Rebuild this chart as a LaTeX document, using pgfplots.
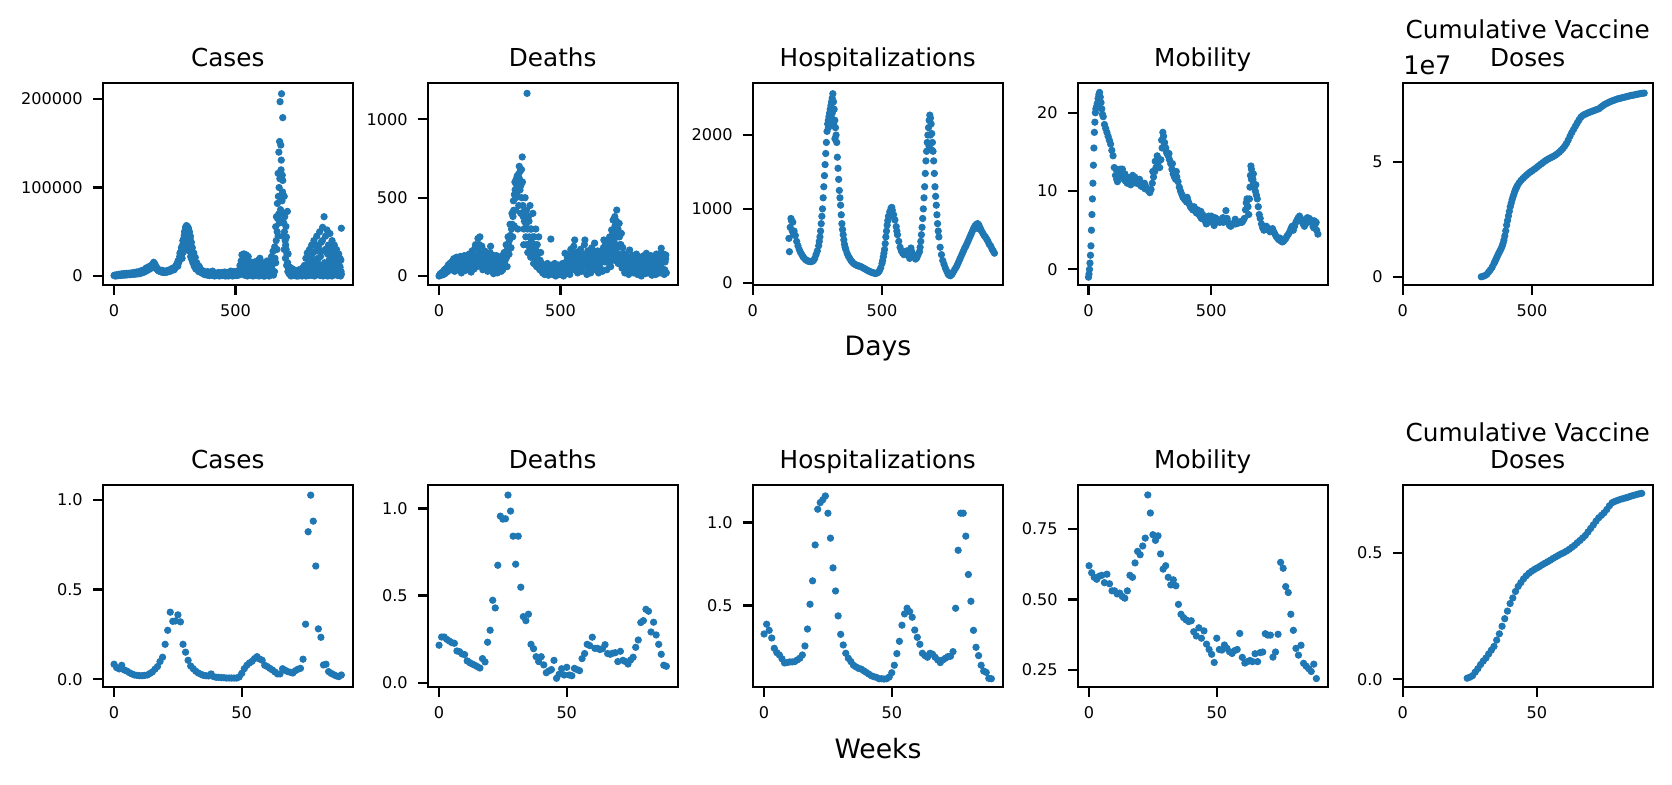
\documentclass[border=0pt]{standalone}
\usepackage{fontspec}
\setmainfont{DejaVu Sans}
\usepackage{pgfplots}
\pgfplotsset{compat=1.18}
\definecolor{mplblue}{HTML}{1F77B4}
\newcommand\ticksize{\fontsize{5.8}{6}\selectfont}
\newcommand\titlesize{\fontsize{8.9}{10}\selectfont}
\newcommand\labsize{\fontsize{9.6}{11}\selectfont}
\pgfplotsset{
  panel/.style={scale only axis, width=90pt, height=72.8pt, anchor=south west, clip=false,
    scaled ticks=false,
    axis line style={line width=0.8pt, black},
    tick align=outside, xtick pos=left, ytick pos=left,
    major tick length=3.5pt,
    every tick/.style={black, line width=0.8pt},
    tick label style={font=\ticksize},
    /pgf/number format/assume math mode=true,
    xticklabel style={inner sep=0pt, anchor=north, yshift=-3.5pt},
    yticklabel style={inner sep=0pt, anchor=east, xshift=-3.5pt},
    title style={at={(0.5,1)}, anchor=base, yshift=-0.2pt, inner sep=0pt, font=\titlesize},
  },
  dots/.style={only marks, mark=*, mark size=1.1pt, color=mplblue, mark options={draw=none}},
}
\begin{document}
\begin{tikzpicture}
\path[use as bounding box] (0,0) rectangle (601.92pt,282.24pt);

% ---------------- top row: days ----------------
\begin{axis}[panel, at={(36.97pt,179.64pt)}, title={Cases},
  xmin=-46.75, xmax=981.75, ymin=-10170, ymax=218400,
  xtick={0,500}, xticklabels={0,500}, ytick={0,100000,200000}, yticklabels={0,100000,200000}]
\addplot[dots] coordinates {(0,500)(5,0)(10,800)(15,300)(20,1200)(25,600)(30,1500)(35,900)(40,1800)(45,1000)(50,2000)(55,1300)(60,2200)(65,1500)(70,2500)(75,1800)(80,2800)(85,2000)(90,3000)(95,2300)(100,3500)(105,2600)(110,4200)(115,3500)(120,5500)(125,4500)(130,7500)(135,6000)(140,9000)(145,7500)(150,11000)(155,9000)(160,13500)(163,15500)(165,11000)(170,12000)(175,8000)(180,6500)(185,5500)(190,6000)(195,4500)(200,5000)(205,4200)(210,4800)(215,5200)(220,4500)(225,5800)(230,6500)(235,6000)(240,7500)(245,9000)(250,8500)(255,11000)(260,14000)(263,17000)(266,15000)(270,22000)(273,19000)(276,28000)(279,25000)(282,35000)(284,30000)(286,42000)(288,38000)(290,50000)(292,44000)(294,55000)(296,48000)(298,57000)(300,52000)(302,56000)(304,46000)(306,54000)(308,40000)(310,50000)(312,35000)(314,45000)(316,30000)(318,38000)(320,25000)(322,32000)(325,20000)(328,26000)(331,16000)(334,21000)(337,12000)(340,15000)(345,9000)(350,11000)(355,7000)(360,5000)(365,6000)(370,3000)(375,4500)(380,2500)(385,5000)(390,1500)(395,4000)(400,2000)(405,5500)(410,1000)(415,3500)(420,500)(425,2500)(430,4000)(435,1000)(440,3000)(445,500)(450,2000)(455,4500)(460,800)(465,3000)(470,0)(475,2500)(480,5500)(485,500)(490,3500)(495,1500)(500,4000)(505,1000)(510,6000)(515,3000)(518,12000)(520,8000)(523,17000)(526,24000)(528,14000)(531,20000)(534,25000)(537,10000)(540,16000)(543,24000)(546,6000)(549,15000)(552,22000)(555,12000)(558,3000)(561,16000)(564,8000)(567,14000)(570,2000)(573,11000)(576,6000)(579,16000)(582,1000)(585,9000)(588,13000)(591,4000)(594,18000)(597,7000)(600,20000)(603,2000)(606,12000)(609,5000)(612,15000)(615,0)(618,10000)(621,3000)(624,14000)(627,6000)(630,17000)(633,1000)(636,11000)(639,4000)(642,16000)(645,8000)(648,22000)(651,3000)(654,28000)(657,18000)(660,5000)(661,33000)(665,55700)(665,15000)(668,67000)(670,30000)(672,82000)(675,116000)(675,45000)(678,140000)(680,60000)(681,152000)(683,197000)(685,75000)(686,148000)(688,131000)(689,206000)(690,62000)(692,114000)(694,179000)(694,108000)(695,45000)(697,91000)(700,90000)(700,30000)(702,67000)(705,20000)(707,56000)(709,44000)(710,12000)(713,73000)(715,5000)(716,25000)(720,3000)(723,10000)(726,1000)(730,5000)(735,8000)(740,2000)(745,6000)(750,0)(755,4000)(760,7000)(765,1000)(770,5000)(775,9000)(780,2000)(783,12000)(786,4000)(789,20000)(792,8000)(795,26000)(798,2000)(801,14000)(804,30000)(807,6000)(810,22000)(813,35000)(816,1000)(819,18000)(822,40000)(825,10000)(828,28000)(831,3000)(834,45000)(837,15000)(840,33000)(843,5000)(846,50000)(849,22000)(852,38000)(855,8000)(858,55000)(861,2000)(864,67000)(867,28000)(870,45000)(873,12000)(876,52000)(879,0)(882,35000)(885,18000)(888,48000)(891,5000)(894,30000)(897,40000)(900,10000)(903,25000)(906,35000)(909,2000)(912,20000)(915,30000)(918,8000)(921,15000)(924,25000)(927,3000)(930,10000)(933,18000)(935,54000)(935,2000)
(790,0)(800,500)(812,1000)(824,0)(836,1500)(848,500)(860,0)(872,1000)(884,500)(896,0)(908,1500)(920,500)(932,0)(818,8000)(842,12000)(866,15000)(890,20000)(914,10000)};
\addplot[dots] coordinates {(2,1000)(7,300)(12,1500)(17,700)(22,2000)(27,1000)(32,2500)(37,1500)(42,2800)(47,1800)(52,3000)(57,2000)(62,3200)(67,2300)(72,3500)(77,2500)(82,4000)(87,3000)(92,4500)(97,3200)(102,5000)(107,3500)(112,6000)(117,4500)(122,7000)(127,6000)(132,9000)(137,8000)(142,10500)(147,9500)(152,12000)(157,11000)(162,12500)(167,14000)(172,10000)(177,9000)(182,7500)(187,6000)(192,5000)(197,6500)(202,4000)(207,5500)(212,4000)(217,6000)(222,5500)(227,7000)(232,5500)(237,8000)(242,9000)(247,7000)(252,10000)(257,13000)(262,11000)(268,18000)(271,26000)(274,24000)(277,32000)(280,20000)(283,40000)(285,27000)(287,33000)(289,46000)(291,30000)(293,51000)(295,36000)(297,53000)(299,40000)(301,55000)(303,35000)(305,50000)(307,30000)(309,47000)(311,28000)(313,42000)(315,22000)(317,34000)(319,19000)(321,28000)(324,15000)(327,22000)(330,11000)(333,17000)(336,8000)(339,12000)(343,7000)(348,5000)(353,9000)(358,4000)(363,3000)(368,5000)(373,1500)(378,3500)(383,1000)(388,3000)(393,500)(398,3000)(403,1000)(408,4000)(413,0)(418,2500)(423,1500)(428,3500)(433,0)(438,2000)(443,4000)(448,1000)(453,3000)(458,0)(463,2000)(468,4000)(473,1000)(478,3000)(483,2000)(488,0)(493,5000)(498,2000)(503,500)(508,3500)(513,1000)
(519,2000)(525,5000)(530,3000)(536,1000)(542,4000)(548,0)(554,6000)(560,1000)(566,3000)(572,0)(578,2000)(584,5000)(590,1000)(596,0)(602,8000)(608,1000)(614,4000)(620,0)(626,2000)(632,9000)(638,0)(644,3000)(650,12000)(656,1000)
(662,20000)(667,40000)(671,50000)(673,65000)(676,90000)(677,70000)(679,100000)(682,110000)(684,90000)(687,120000)(691,85000)(693,95000)(696,70000)(698,60000)(701,50000)(704,40000)(706,35000)(708,30000)(711,25000)(714,15000)(718,8000)
(722,2000)(728,0)(733,3000)(738,500)(743,4000)(748,1000)(753,2500)(758,0)(763,3500)(768,1500)(773,0)(778,5000)(785,1000)(793,3000)(797,12000)(803,1000)(806,18000)(809,4000)(811,10000)(815,25000)(821,5000)(827,15000)(830,35000)(833,8000)(839,20000)(845,10000)(851,28000)(854,3000)(857,40000)(863,12000)(869,30000)(875,5000)(878,25000)(881,10000)(887,30000)(893,15000)(899,25000)(902,3000)(905,15000)(911,8000)(917,18000)(923,5000)(926,12000)(929,20000)(934,5000)};
\end{axis}

\begin{axis}[panel, at={(153.97pt,179.64pt)}, title={Deaths},
  xmin=-46.75, xmax=981.75, ymin=-57.4, ymax=1233.6,
  xtick={0,500}, xticklabels={0,500}, ytick={0,500,1000}, yticklabels={0,500,1000}]
\addplot[dots] coordinates {(0,0)(4,10)(8,5)(12,20)(16,8)(20,30)(24,15)(28,45)(32,25)(36,60)(40,35)(44,80)(48,40)(52,90)(56,50)(60,110)(64,30)(68,80)(72,120)(76,40)(80,95)(84,60)(88,125)(92,20)(96,100)(100,70)(104,130)(108,35)(112,90)(116,115)(120,50)(124,140)(128,75)(132,25)(136,160)(140,100)(144,45)(148,180)(152,120)(156,60)(160,240)(164,150)(168,250)(172,80)(176,190)(180,40)(184,130)(188,160)(192,70)(196,110)(200,30)(204,140)(208,85)(212,190)(216,50)(220,120)(224,15)(228,100)(232,60)(236,130)(240,20)(244,90)(248,50)(252,110)(256,30)(260,130)(264,70)(268,150)(272,100)(276,200)(280,60)(284,250)(288,140)(292,330)(296,180)(300,400)(303,250)(306,480)(309,320)(312,600)(315,420)(318,620)(321,520)(324,300)(327,650)(330,700)(333,550)(336,400)(339,680)(342,760)(345,450)(348,200)(351,350)(354,500)(357,250)(360,420)(362,1166)(365,150)(368,380)(371,250)(374,450)(377,120)(380,300)(383,200)(386,400)(389,80)(392,250)(395,150)(398,300)(401,60)(404,200)(407,100)(410,250)(414,40)(418,150)(422,80)(426,20)(430,70)(434,10)(438,60)(442,30)(446,80)(450,5)(454,50)(458,20)(460,236)(464,70)(468,10)(472,40)(476,80)(480,0)(484,60)(488,20)(492,70)(496,10)(500,50)(504,30)(508,80)(512,0)(516,60)(518,145)(522,20)(526,100)(530,50)(534,130)(538,10)(542,170)(546,80)(550,40)(554,190)(558,230)(562,60)(566,150)(570,20)(574,120)(578,90)(582,170)(586,30)(590,140)(594,60)(598,200)(600,230)(604,100)(608,10)(612,160)(616,70)(620,120)(624,20)(628,180)(632,90)(636,40)(640,210)(644,130)(648,60)(652,160)(656,20)(660,100)(664,50)(668,140)(672,30)(676,180)(678,230)(682,90)(686,150)(690,40)(694,200)(698,110)(702,250)(706,60)(710,294)(713,160)(716,357)(719,220)(722,100)(723,379)(726,280)(729,150)(731,421)(734,250)(737,80)(741,336)(744,200)(747,120)(750,272)(753,50)(756,180)(760,100)(764,20)(768,140)(772,60)(776,120)(780,10)(784,166)(788,80)(792,40)(796,130)(800,20)(804,100)(808,60)(812,140)(816,10)(820,90)(824,40)(828,120)(832,0)(836,80)(840,30)(844,110)(848,15)(853,145)(856,60)(860,20)(864,100)(868,40)(872,130)(876,5)(880,70)(884,30)(888,120)(892,10)(896,90)(900,40)(904,140)(908,20)(912,80)(914,177)(918,30)(922,110)(926,10)(930,90)(933,134)(935,20)};
\addplot[dots] coordinates {(2,3)(6,15)(10,12)(14,25)(18,20)(22,40)(26,35)(30,50)(34,40)(38,70)(42,55)(46,65)(50,70)(54,75)(58,85)(62,60)(66,100)(70,70)(74,90)(78,65)(82,110)(86,85)(90,70)(94,115)(98,50)(102,95)(106,110)(110,60)(114,130)(118,80)(122,100)(126,110)(130,60)(134,120)(138,70)(142,130)(146,90)(150,200)(154,100)(158,170)(162,120)(166,200)(170,130)(174,100)(178,140)(182,90)(186,110)(190,120)(194,50)(198,90)(202,110)(206,60)(210,150)(214,100)(218,80)(222,70)(226,130)(230,40)(234,90)(238,110)(242,60)(246,120)(250,80)(254,70)(258,110)(262,40)(266,100)(270,130)(274,150)(278,120)(282,180)(286,200)(290,230)(294,260)(298,300)(301,330)(304,380)(307,420)(310,520)(313,550)(316,500)(319,580)(322,640)(325,600)(328,450)(331,620)(334,670)(337,580)(340,500)(343,600)(346,380)(349,300)(352,420)(355,380)(358,330)(361,200)(364,300)(367,200)(370,350)(373,180)(376,300)(379,220)(382,150)(385,250)(388,180)(391,120)(394,200)(397,100)(400,160)(403,120)(406,60)(409,150)(412,90)(416,100)(420,50)(424,60)(428,40)(432,30)(436,50)(440,20)(444,40)(448,60)(452,30)(456,10)(462,40)(466,30)(470,60)(474,20)(478,50)(482,30)(486,40)(490,10)(494,50)(498,20)(502,70)(506,10)(510,40)(514,30)(520,80)(524,60)(528,120)(532,80)(536,40)(540,110)(544,130)(548,70)(552,150)(556,100)(560,120)(564,40)(568,100)(572,60)(576,140)(580,50)(584,110)(588,80)(592,100)(596,130)(602,60)(606,140)(610,90)(614,40)(618,130)(622,90)(626,60)(630,130)(634,70)(638,150)(642,60)(646,100)(650,80)(654,130)(658,70)(662,150)(666,100)(670,90)(674,150)(680,120)(684,200)(688,100)(692,150)(696,230)(700,80)(704,180)(708,130)(712,220)(715,280)(718,120)(721,250)(724,320)(727,200)(730,350)(733,180)(736,300)(739,140)(742,250)(745,100)(748,200)(752,130)(755,80)(758,140)(762,60)(766,100)(770,30)(774,80)(778,110)(782,50)(786,120)(790,90)(794,30)(798,100)(802,60)(806,130)(810,30)(814,90)(818,50)(822,120)(826,70)(830,20)(834,100)(838,60)(842,130)(846,40)(850,90)(854,30)(858,110)(862,70)(866,20)(870,100)(874,50)(878,120)(882,30)(886,80)(890,60)(894,140)(898,20)(902,100)(906,60)(910,120)(916,50)(920,90)(924,140)(928,40)(932,110)};
\end{axis}

\begin{axis}[panel, at={(270.97pt,179.64pt)}, title={Hospitalizations},
  xmin=0, xmax=967, ymin=-31, ymax=2708,
  xtick={0,500}, xticklabels={0,500}, ytick={0,1000,2000}, yticklabels={0,1000,2000}]
\addplot[dots] coordinates {(140,600)(142,420)(145,750)(148,870)(150,840)(153,700)(155,820)(158,650)(160,700)(165,640)(170,560)(175,500)(180,450)(185,410)(190,380)(195,350)(200,330)(205,310)(210,300)(215,290)(220,290)(225,285)(230,290)(235,300)(240,330)(245,380)(250,430)(255,500)(257.5,560)(260,620)(262.5,700)(265,800)(267.5,900)(270,1000)(272.5,1150)(275,1300)(277.5,1450)(280,1600)(282.5,1750)(285,1900)(287.5,2050)(290,2150)(292.5,2200)(295,2250)(297.5,2300)(300,2350)(302.5,2400)(305,2450)(307.5,2500)(310,2560)(312.5,2450)(315,2350)(317.5,2200)(320,2100)(322.5,2000)(325,1900)(327.5,1700)(330,1550)(332.5,1400)(335,1250)(337.5,1150)(340,1050)(342.5,920)(345,800)(347.5,720)(350,650)(352.5,580)(355,520)(357.5,480)(360,450)(365,400)(370,360)(375,330)(380,300)(385,280)(390,260)(395,250)(400,240)(405,230)(410,230)(415,220)(420,215)(425,205)(430,195)(435,185)(440,175)(445,165)(450,155)(455,150)(460,140)(465,135)(470,130)(475,125)(480,130)(485,140)(490,160)(495,200)(500,260)(502.5,300)(505,350)(507.5,400)(510,450)(512.5,530)(515,620)(517.5,700)(520,780)(522.5,840)(525,900)(530,960)(535,1010)(540,980)(545,920)(550,850)(555,760)(557.5,700)(560,650)(565,560)(570,480)(575,430)(580,400)(585,380)(590,400)(595,430)(600,420)(605,400)(610,450)(615,420)(620,380)(625,350)(630,320)(635,340)(640,380)(645,420)(647.5,480)(650,560)(652.5,650)(655,750)(657.5,870)(660,1000)(662.5,1150)(665,1300)(667.5,1480)(670,1650)(672.5,1780)(675,1900)(677.5,2000)(680,2100)(682.5,2200)(685,2270)(687.5,2230)(690,2150)(692.5,2020)(695,1900)(697.5,1780)(700,1650)(702.5,1480)(705,1300)(707.5,1170)(710,1050)(712.5,920)(715,800)(717.5,700)(720,620)(725,480)(730,380)(735,300)(740,250)(745,200)(750,160)(755,120)(760,100)(765,95)(770,110)(775,140)(780,170)(785,200)(790,230)(795,270)(800,310)(805,350)(810,390)(815,430)(820,470)(825,500)(830,540)(835,580)(840,620)(845,660)(850,700)(855,740)(860,770)(865,790)(870,800)(875,780)(880,740)(885,700)(890,670)(895,640)(900,620)(905,590)(910,560)(915,520)(920,500)(925,460)(930,430)(935,400)
(293,2100)(298,2150)(303,2250)(308,2300)(313,2150)(318,1950)(682,1850)(687,2000)(692,1800)(533,900)(538,1020)(597,380)(607,330)(612,470)(868,760)(873,730)};
\end{axis}

\begin{axis}[panel, at={(387.97pt,179.64pt)}, title={Mobility},
  xmin=-44, xmax=975, ymin=-2.0, ymax=23.83,
  xtick={0,500}, xticklabels={0,500}, ytick={0,10,20}, yticklabels={0,10,20}]
\addplot[dots] coordinates {(0,-1.0)(2,-0.6)(4,0.0)(6,0.8)(8,1.8)(10,3.0)(12,5.0)(14,7.0)(16,9.0)(18,11.0)(20,13.3)(22,15.5)(24,17.5)(26,18.8)(28,20.0)(30,20.5)(33,20.8)(36,21.2)(39,21.8)(42,22.3)(45,22.6)(48,22.0)(51,21.3)(54,20.5)(57,19.8)(60,19.5)(65,18.5)(70,18.0)(75,17.5)(80,17.0)(85,16.5)(90,16.0)(95,15.2)(100,14.5)(105,13.0)(110,12.0)(115,11.5)(120,11.8)(125,12.5)(130,12.8)(135,12.3)(140,12.0)(145,11.5)(150,11.3)(155,11.8)(160,11.5)(165,11.2)(170,11.4)(175,11.8)(180,12.0)(185,11.6)(190,11.2)(195,11.0)(200,11.1)(205,11.0)(210,10.8)(215,10.6)(220,10.8)(225,10.5)(230,10.3)(235,10.5)(240,10.2)(245,10.0)(250,9.8)(255,10.2)(260,11.0)(265,11.8)(270,12.5)(275,13.0)(280,14.5)(285,13.8)(290,13.0)(295,14.0)(300,15.5)(303,17.5)(306,17.0)(310,16.2)(315,15.5)(320,14.8)(325,14.5)(330,14.0)(335,13.5)(340,12.8)(345,12.2)(350,11.8)(355,11.5)(360,11.8)(365,11.2)(370,10.5)(375,10.0)(380,9.6)(385,9.2)(390,9.0)(395,8.8)(400,8.6)(405,8.8)(410,8.4)(415,8.0)(420,7.8)(425,7.6)(430,8.0)(435,7.5)(440,7.2)(445,7.6)(450,7.0)(455,6.8)(460,6.5)(465,7.0)(470,6.6)(475,6.2)(480,5.8)(485,6.4)(490,6.8)(495,6.3)(500,6.8)(505,6.5)(510,6.2)(515,6.6)(520,6.5)(525,6.4)(530,6.2)(535,6.0)(540,6.3)(545,6.1)(550,6.0)(555,6.4)(560,7.5)(565,6.5)(570,6.0)(575,5.6)(580,5.5)(585,5.7)(590,5.8)(595,6.0)(600,5.8)(605,6.0)(610,5.9)(615,6.0)(620,6.1)(625,6.0)(630,6.2)(635,6.5)(640,7.6)(643,8.5)(646,9.0)(650,8.0)(653,7.0)(656,9.0)(658,10.5)(660,12.0)(662,13.2)(664,12.8)(667,12.0)(670,11.5)(673,11.0)(676,10.5)(680,10.0)(684,9.5)(688,9.0)(692,8.0)(696,7.0)(700,6.5)(705,5.8)(710,5.3)(715,5.0)(720,5.2)(725,5.5)(730,5.3)(735,5.0)(740,4.8)(745,5.0)(750,5.2)(755,4.8)(760,4.5)(765,4.2)(770,4.0)(775,3.8)(780,4.0)(785,3.6)(790,3.5)(795,3.6)(800,3.8)(805,4.0)(810,4.3)(815,4.5)(820,4.8)(825,5.2)(830,5.5)(835,5.0)(840,5.5)(845,6.0)(850,6.3)(855,6.6)(860,6.8)(865,6.5)(870,6.2)(875,5.8)(880,5.5)(885,5.8)(890,6.0)(895,6.2)(900,6.5)(905,6.3)(910,6.0)(915,5.5)(920,6.2)(925,5.8)(930,5.0)(935,4.5)
(112,12.8)(118,11.2)(128,11.8)(138,12.8)(148,12.2)(158,11.0)(172,10.8)(188,11.8)(208,11.5)(228,11.0)(262,12.5)(272,13.8)(282,13.5)(298,16.5)(308,15.8)(318,15.0)(328,14.8)(342,13.5)(358,12.5)(402,9.2)(432,7.8)(458,7.4)(488,6.0)(512,5.6)(548,6.6)(598,6.4)(648,8.0)(664,11.5)(672,12.2)(682,10.8)(862,6.2)(892,6.6)(918,5.3)(928,6.0)};
\end{axis}

\begin{axis}[panel, at={(504.97pt,179.64pt)}, title={Doses},
  xmin=0, xmax=967, ymin=-0.36, ymax=8.45,
  xtick={0,500}, xticklabels={0,500}, ytick={0,5}, yticklabels={0,5}]
\node[anchor=base, inner sep=0pt, font=\titlesize] at (rel axis cs:0.5,1) [yshift=15.8pt] {Cumulative Vaccine};
\node[anchor=base west, inner sep=0pt, font=\fontsize{9.2}{10}\selectfont] at (rel axis cs:0,1) [yshift=2.9pt] {1e7};
\addplot[dots] coordinates {(304,0.0)(311,0.02)(318,0.05)(325,0.10)(332,0.2)(339,0.3)(346,0.42)(353,0.58)(356.5,0.66)(360,0.75)(363.5,0.83)(367,0.92)(370.5,1.0)(374,1.08)(377.5,1.15)(381,1.23)(384.5,1.33)(388,1.45)(391.5,1.6)(395,1.78)(398.5,2.0)(402,2.25)(405.5,2.45)(409,2.65)(412.5,2.85)(416,3.05)(419.5,3.2)(423,3.35)(426.5,3.48)(430,3.6)(433.5,3.72)(437,3.82)(440.5,3.9)(444,3.98)(451,4.1)(458,4.2)(465,4.28)(472,4.36)(479,4.43)(486,4.5)(493,4.56)(500,4.61)(507,4.67)(514,4.72)(521,4.79)(528,4.85)(535,4.91)(542,4.97)(549,5.03)(556,5.08)(563,5.13)(570,5.17)(577,5.21)(584,5.25)(591,5.3)(598,5.36)(605,5.42)(612,5.5)(619,5.58)(626,5.68)(633,5.8)(640,5.95)(647,6.12)(654,6.28)(661,6.42)(668,6.56)(675,6.7)(682,6.83)(689,6.95)(696,7.02)(703,7.07)(710,7.1)(717,7.14)(724,7.17)(731,7.2)(738,7.23)(745,7.26)(752,7.29)(759,7.32)(766,7.38)(773,7.44)(780,7.5)(787,7.54)(794,7.58)(801,7.62)(808,7.65)(815,7.68)(822,7.71)(829,7.74)(836,7.76)(843,7.78)(850,7.8)(857,7.82)(864,7.84)(871,7.86)(878,7.88)(885,7.9)(892,7.91)(899,7.93)(906,7.95)(913,7.96)(920,7.98)(927,7.99)(934,8.0)};
\end{axis}

\node[anchor=base, inner sep=0pt, font=\labsize] at (316.08pt,154.3pt) {Days};

% ---------------- bottom row: weeks ----------------
\begin{axis}[panel, at={(36.97pt,34.92pt)}, title={Cases},
  xmin=-4.45, xmax=93.45, ymin=-0.043, ymax=1.0837,
  xtick={0,50}, xticklabels={0,50}, ytick={0,0.5,1}, yticklabels={0.0,0.5,1.0}]
\addplot[dots] coordinates {(0,.084)(1,.065)(2,.058)(3,.078)(4,.052)(5,.046)(6,.037)(7,.030)(8,.024)(9,.022)(10,.020)(11,.020)(12,.022)(13,.024)(14,.032)(15,.041)(16,.056)(17,.071)(18,.099)(19,.123)(20,.195)(21,.273)(22,.374)(23,.323)(24,.325)(25,.359)(26,.320)(27,.195)(28,.151)(29,.106)(30,.074)(31,.059)(32,.045)(33,.035)(34,.028)(35,.022)(36,.020)(37,.019)(38,.030)(39,.015)(40,.011)(41,.011)(42,.009)(43,.009)(44,.007)(45,.007)(46,.007)(47,.007)(48,.007)(49,.013)(50,.033)(51,.059)(52,.078)(53,.091)(54,.100)(55,.115)(56,.126)(57,.113)(58,.106)(59,.078)(60,.071)(61,.061)(62,.052)(63,.041)(64,.030)(65,.030)(66,.059)(67,.050)(68,.043)(69,.039)(70,.035)(71,.048)(72,.056)(73,.061)(74,.112)(75,.307)(76,.822)(77,1.026)(78,.881)(79,.631)(80,.281)(81,.234)(82,.080)(83,.084)(84,.043)(85,.033)(86,.026)(87,.019)(88,.015)(89,.024)};
\end{axis}

\begin{axis}[panel, at={(153.97pt,34.92pt)}, title={Deaths},
  xmin=-4.45, xmax=93.45, ymin=-0.025, ymax=1.136,
  xtick={0,50}, xticklabels={0,50}, ytick={0,0.5,1}, yticklabels={0.0,0.5,1.0}]
\addplot[dots] coordinates {(0,.215)(1,.262)(2,.262)(3,.249)(4,.239)(5,.230)(6,.226)(7,.182)(8,.178)(9,.165)(10,.161)(11,.125)(12,.115)(13,.107)(14,.100)(15,.092)(16,.084)(17,.138)(18,.119)(19,.232)(20,.301)(21,.473)(22,.429)(23,.674)(24,.956)(25,.939)(26,.941)(27,1.077)(28,.985)(29,.841)(30,.680)(31,.841)(32,.548)(33,.379)(34,.356)(35,.393)(36,.220)(37,.195)(38,.149)(39,.121)(40,.149)(41,.102)(42,.057)(43,.067)(44,.075)(45,.128)(46,.025)(47,.048)(48,.080)(49,.044)(50,.088)(51,.044)(52,.040)(53,.082)(54,.075)(55,.069)(56,.138)(57,.167)(58,.220)(59,.213)(60,.261)(61,.197)(62,.197)(63,.190)(64,.195)(65,.218)(66,.167)(67,.163)(68,.169)(69,.172)(70,.121)(71,.180)(72,.128)(73,.121)(74,.107)(75,.130)(76,.146)(77,.203)(78,.245)(79,.345)(80,.356)(81,.421)(82,.410)(83,.291)(84,.347)(85,.274)(86,.220)(87,.163)(88,.100)(89,.094)};
\end{axis}

\begin{axis}[panel, at={(270.97pt,34.92pt)}, title={Hospitalizations},
  xmin=-4.45, xmax=93.45, ymin=0.010, ymax=1.227,
  xtick={0,50}, xticklabels={0,50}, ytick={0.5,1}, yticklabels={0.5,1.0}]
\addplot[dots] coordinates {(0,.329)(1,.388)(2,.351)(3,.305)(4,.243)(5,.217)(6,.203)(7,.180)(8,.155)(9,.157)(10,.161)(11,.161)(12,.163)(13,.173)(14,.183)(15,.203)(16,.257)(17,.359)(18,.508)(19,.649)(20,.865)(21,1.080)(22,1.120)(23,1.137)(24,1.160)(25,1.056)(26,.906)(27,.727)(28,.588)(29,.438)(30,.327)(31,.263)(32,.213)(33,.183)(34,.163)(35,.141)(36,.131)(37,.122)(38,.118)(39,.108)(40,.098)(41,.088)(42,.078)(43,.072)(44,.068)(45,.060)(46,.060)(47,.058)(48,.060)(49,.070)(50,.096)(51,.141)(52,.211)(53,.285)(54,.382)(55,.450)(56,.484)(57,.464)(58,.430)(59,.353)(60,.309)(61,.267)(62,.213)(63,.199)(64,.189)(65,.213)(66,.207)(67,.189)(68,.173)(69,.157)(70,.173)(71,.183)(72,.193)(73,.195)(74,.223)(75,.484)(76,.833)(77,1.056)(78,1.056)(79,.918)(80,.687)(81,.526)(82,.351)(83,.249)(84,.199)(85,.141)(86,.106)(87,.098)(88,.062)(89,.060)};
\end{axis}

\begin{axis}[panel, at={(387.97pt,34.92pt)}, title={Mobility},
  xmin=-4.45, xmax=93.45, ymin=0.19, ymax=0.907,
  xtick={0,50}, xticklabels={0,50}, ytick={0.25,0.5,0.75}, yticklabels={0.25,0.50,0.75}]
\addplot[dots] coordinates {(0,.620)(1,.595)(2,.579)(3,.572)(4,.583)(5,.586)(6,.560)(7,.590)(8,.556)(9,.531)(10,.531)(11,.520)(12,.523)(13,.511)(14,.505)(15,.531)(16,.586)(17,.579)(18,.630)(19,.671)(20,.659)(21,.690)(22,.718)(23,.871)(24,.807)(25,.730)(26,.710)(27,.726)(28,.662)(29,.608)(30,.620)(31,.579)(32,.552)(33,.570)(34,.549)(35,.483)(36,.448)(37,.436)(38,.428)(39,.422)(40,.425)(41,.386)(42,.371)(43,.400)(44,.363)(45,.389)(46,.342)(47,.323)(48,.306)(49,.277)(50,.363)(51,.323)(52,.321)(53,.339)(54,.327)(55,.315)(56,.309)(57,.319)(58,.323)(59,.380)(60,.295)(61,.275)(62,.280)(63,.284)(64,.280)(65,.308)(66,.280)(67,.312)(68,.314)(69,.379)(70,.374)(71,.374)(72,.296)(73,.314)(74,.377)(75,.632)(76,.611)(77,.546)(78,.525)(79,.448)(80,.391)(81,.327)(82,.303)(83,.338)(84,.274)(85,.264)(86,.255)(87,.245)(88,.271)(89,.220)};
\end{axis}

\begin{axis}[panel, at={(504.97pt,34.92pt)}, title={Doses},
  xmin=0, xmax=93.1, ymin=-0.031, ymax=0.771,
  xtick={0,50}, xticklabels={0,50}, ytick={0,0.5}, yticklabels={0.0,0.5}]
\node[anchor=base, inner sep=0pt, font=\titlesize] at (rel axis cs:0.5,1) [yshift=15.6pt] {Cumulative Vaccine};
\addplot[dots] coordinates {(24,.004)(25,.008)(26,.014)(27,.028)(28,.042)(29,.058)(30,.072)(31,.084)(32,.100)(33,.115)(34,.130)(35,.155)(36,.180)(37,.210)(38,.240)(39,.270)(40,.300)(41,.322)(42,.348)(43,.368)(44,.383)(45,.398)(46,.410)(47,.420)(48,.428)(49,.435)(50,.441)(51,.447)(52,.454)(53,.460)(54,.466)(55,.472)(56,.479)(57,.485)(58,.491)(59,.497)(60,.502)(61,.508)(62,.515)(63,.523)(64,.531)(65,.541)(66,.550)(67,.560)(68,.570)(69,.584)(70,.598)(71,.612)(72,.627)(73,.640)(74,.650)(75,.660)(76,.673)(77,.688)(78,.700)(79,.705)(80,.709)(81,.713)(82,.716)(83,.719)(84,.722)(85,.726)(86,.729)(87,.732)(88,.735)(89,.737)};
\end{axis}

\node[anchor=base, inner sep=0pt, font=\labsize] at (316.08pt,9.1pt) {Weeks};
\end{tikzpicture}
\end{document}
